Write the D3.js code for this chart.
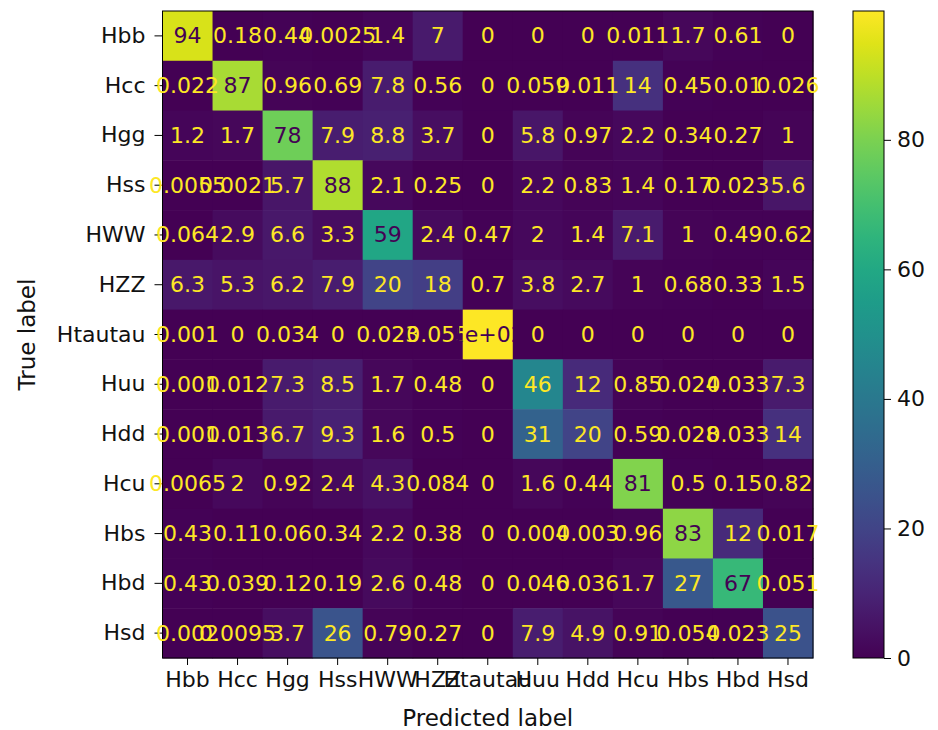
<!DOCTYPE html>
<html>
<head>
<meta charset="utf-8">
<script src="https://cdn.jsdelivr.net/npm/d3@7"></script>
<style>
  html, body { margin: 0; padding: 0; background: #fff; }
  svg { display: block; }
  text { font-family: "DejaVu Sans", sans-serif; }
</style>
</head>
<body>
<svg id="chart" width="938" height="730"></svg>
<script>
// ---- data ----
const labels = ["Hbb","Hcc","Hgg","Hss","HWW","HZZ","Htautau","Huu","Hdd","Hcu","Hbs","Hbd","Hsd"];
const rowHbb     = [94, 0.18, 0.44, 0.0025, 1.4, 7, 0, 0, 0, 0.011, 1.7, 0.61, 0];
const rowHcc     = [0.022, 87, 0.96, 0.69, 7.8, 0.56, 0, 0.059, 0.011, 14, 0.45, 0.01, 0.026];
const rowHgg     = [1.2, 1.7, 78, 7.9, 8.8, 3.7, 0, 5.8, 0.97, 2.2, 0.34, 0.27, 1];
const rowHss     = [0.0055, 0.0021, 5.7, 88, 2.1, 0.25, 0, 2.2, 0.83, 1.4, 0.17, 0.023, 5.6];
const rowHWW     = [0.064, 2.9, 6.6, 3.3, 59, 2.4, 0.47, 2, 1.4, 7.1, 1, 0.49, 0.62];
const rowHZZ     = [6.3, 5.3, 6.2, 7.9, 20, 18, 0.7, 3.8, 2.7, 1, 0.68, 0.33, 1.5];
const rowHtautau = [0.001, 0, 0.034, 0, 0.023, 0.055, 99.89, 0, 0, 0, 0, 0, 0];
const rowHuu     = [0.001, 0.012, 7.3, 8.5, 1.7, 0.48, 0, 46, 12, 0.85, 0.024, 0.033, 7.3];
const rowHdd     = [0.001, 0.013, 6.7, 9.3, 1.6, 0.5, 0, 31, 20, 0.59, 0.028, 0.033, 14];
const rowHcu     = [0.0065, 2, 0.92, 2.4, 4.3, 0.084, 0, 1.6, 0.44, 81, 0.5, 0.15, 0.82];
const rowHbs     = [0.43, 0.11, 0.06, 0.34, 2.2, 0.38, 0, 0.004, 0.003, 0.96, 83, 12, 0.017];
const rowHbd     = [0.43, 0.039, 0.12, 0.19, 2.6, 0.48, 0, 0.046, 0.036, 1.7, 27, 67, 0.051];
const rowHsd     = [0.002, 0.0095, 3.7, 26, 0.79, 0.27, 0, 7.9, 4.9, 0.91, 0.054, 0.023, 25];
const colorbarTicks = [0, 20, 40, 60, 80];
const xTitle = "Predicted label";
const yTitle = "True label";

const matrix = [rowHbb,rowHcc,rowHgg,rowHss,rowHWW,rowHZZ,rowHtautau,rowHuu,rowHdd,rowHcu,rowHbs,rowHbd,rowHsd];

(function () {
// ---- layout ----
const FS = 22, FT = 23;
const pLeft = 162.5, pRight = 813, pTop = 11, pBottom = 658;
const svg = d3.select("#chart");

const x = d3.scaleBand().domain(labels).range([pLeft, pRight]).padding(0);
const y = d3.scaleBand().domain(labels).range([pTop, pBottom]).padding(0);

const allVals = matrix.flat();
const vmin = d3.min(allVals), vmax = d3.max(allVals);
const color = d3.scaleSequential(d3.interpolateViridis).domain([vmin, vmax]);
const thresh = (vmin + vmax) / 2;

// python-like ".2g" formatting
function fmt2g(v) {
  if (v === 0) return "0";
  const r = +v.toPrecision(2);
  const e = Math.floor(Math.log10(Math.abs(r)));
  if (e < -4 || e >= 2) {
    let [m, ex] = r.toExponential(1).split("e");
    m = m.replace(/\.?0+$/, "");
    const sign = ex[0] === "-" ? "-" : "+";
    let digits = ex.replace(/[+-]/, "");
    if (digits.length < 2) digits = "0" + digits;
    return m + "e" + sign + digits;
  }
  return d3.format(".2~g")(v);
}

const cells = [];
matrix.forEach((row, i) => row.forEach((v, j) => cells.push({r: labels[i], c: labels[j], v})));

svg.append("g").selectAll("rect").data(cells).join("rect")
  .attr("x", d => x(d.c)).attr("y", d => y(d.r))
  .attr("width", x.bandwidth() + 0.5).attr("height", y.bandwidth() + 0.5)
  .attr("fill", d => color(d.v));

// frame
svg.append("rect").attr("x", pLeft).attr("y", pTop)
  .attr("width", pRight - pLeft).attr("height", pBottom - pTop)
  .attr("fill", "none").attr("stroke", "#000").attr("stroke-width", 1);

// axes
const xAxis = d3.axisBottom(x).tickSize(7).tickPadding(6);
const gx = svg.append("g").attr("transform", `translate(0,${pBottom})`).call(xAxis);
gx.select(".domain").remove();
gx.selectAll("text").attr("font-size", FS).attr("fill", "#111").style("font-family", "DejaVu Sans");

const yAxis = d3.axisLeft(y).tickSize(8).tickPadding(9);
const gy = svg.append("g").attr("transform", `translate(${pLeft},0)`).call(yAxis);
gy.select(".domain").remove();
gy.selectAll("text").attr("font-size", FS).attr("fill", "#111").style("font-family", "DejaVu Sans");

// cell annotations (drawn over ticks, like matplotlib)
svg.append("g").selectAll("text").data(cells).join("text")
  .attr("x", d => x(d.c) + x.bandwidth() / 2)
  .attr("y", d => y(d.r) + y.bandwidth() / 2)
  .attr("text-anchor", "middle").attr("dominant-baseline", "central")
  .attr("font-size", FS)
  .attr("fill", d => d.v < thresh ? d3.interpolateViridis(1) : d3.interpolateViridis(0))
  .text(d => fmt2g(d.v));

svg.append("text").attr("x", (pLeft + pRight) / 2).attr("y", 718)
  .attr("text-anchor", "middle").attr("dominant-baseline", "central")
  .attr("font-size", FT).attr("fill", "#111").text(xTitle);

svg.append("text").attr("transform", `translate(27,${(pTop + pBottom) / 2}) rotate(-90)`)
  .attr("text-anchor", "middle").attr("dominant-baseline", "central")
  .attr("font-size", FT).attr("fill", "#111").text(yTitle);

// colorbar
const cbX = 853, cbW = 31;
const cbScale = d3.scaleLinear().domain([vmin, vmax]).range([pBottom, pTop]);
const defs = svg.append("defs");
const grad = defs.append("linearGradient").attr("id", "cbgrad")
  .attr("x1", 0).attr("y1", 1).attr("x2", 0).attr("y2", 0);
d3.range(0, 1.0001, 0.05).forEach(t => {
  grad.append("stop").attr("offset", t).attr("stop-color", d3.interpolateViridis(t));
});
svg.append("rect").attr("x", cbX).attr("y", pTop).attr("width", cbW).attr("height", pBottom - pTop)
  .attr("fill", "url(#cbgrad)").attr("stroke", "#000").attr("stroke-width", 1);
const cbAxis = d3.axisRight(cbScale).tickValues(colorbarTicks).tickSize(7).tickPadding(6).tickFormat(d3.format("d"));
const gcb = svg.append("g").attr("transform", `translate(${cbX + cbW},0)`).call(cbAxis);
gcb.select(".domain").remove();
gcb.selectAll("text").attr("font-size", FS).attr("fill", "#111").style("font-family", "DejaVu Sans");
})();
</script>
</body>
</html>
